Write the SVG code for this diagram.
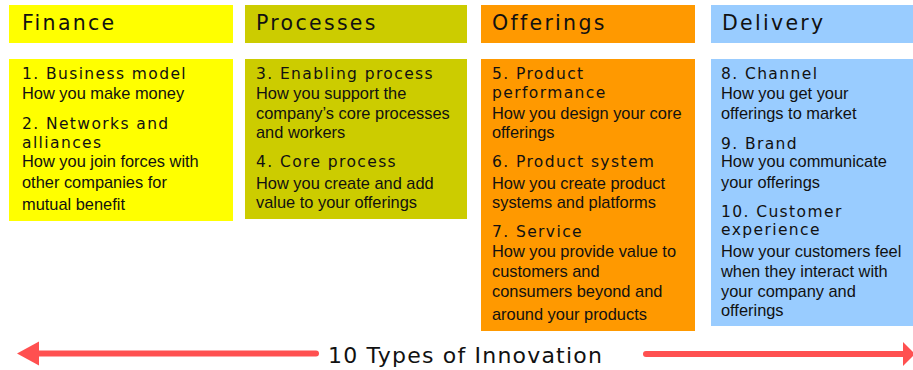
<svg xmlns="http://www.w3.org/2000/svg" width="913" height="370" viewBox="0 0 913 370">
<style>
.hd{font-family:"DejaVu Sans",Verdana,sans-serif;font-size:20.5px;letter-spacing:2.3px;fill:#111}
.tt{font-family:"DejaVu Sans",Verdana,sans-serif;font-size:15.5px;letter-spacing:1.4px;fill:#111}
.ds{font-family:"Liberation Sans",Arial,sans-serif;font-size:16.4px;fill:#111}
.ft{font-family:"DejaVu Sans",Verdana,sans-serif;font-size:22px;letter-spacing:1.2px;fill:#111}
.arr{stroke:#FF5050;stroke-width:6;stroke-linecap:round;fill:none}
</style>
<rect width="913" height="370" fill="#fff"/>
<g id="finance">
<rect x="9" y="5" width="224" height="38" fill="#FFFF00"/>
<rect x="9" y="59" width="224" height="162" fill="#FFFF00"/>
<text class="hd" x="22" y="30">Finance</text>
<text class="tt" x="22" y="79">1. Business model</text>
<text class="ds" x="22" y="99">How you make money</text>
<text class="tt" x="22" y="129">2. Networks and</text>
<text class="tt" x="22" y="148">alliances</text>
<text class="ds" x="22" y="167">How you join forces with</text>
<text class="ds" x="22" y="188">other companies for</text>
<text class="ds" x="22" y="210">mutual benefit</text>
</g>
<g id="processes">
<rect x="245" y="5" width="222" height="38" fill="#CCCC00"/>
<rect x="245" y="59" width="222" height="160" fill="#CCCC00"/>
<text class="hd" x="256" y="30">Processes</text>
<text class="tt" x="256" y="79">3. Enabling process</text>
<text class="ds" x="256" y="99">How you support the</text>
<text class="ds" x="256" y="119">company’s core processes</text>
<text class="ds" x="256" y="138">and workers</text>
<text class="tt" x="256" y="167">4. Core process</text>
<text class="ds" x="256" y="189">How you create and add</text>
<text class="ds" x="256" y="208">value to your offerings</text>
</g>
<g id="offerings">
<rect x="481" y="5" width="214" height="38" fill="#FF9900"/>
<rect x="481" y="59" width="214" height="272" fill="#FF9900"/>
<text class="hd" x="492" y="30">Offerings</text>
<text class="tt" x="492" y="79">5. Product</text>
<text class="tt" x="492" y="98">performance</text>
<text class="ds" x="492" y="119">How you design your core</text>
<text class="ds" x="492" y="138">offerings</text>
<text class="tt" x="492" y="167">6. Product system</text>
<text class="ds" x="492" y="189">How you create product</text>
<text class="ds" x="492" y="208">systems and platforms</text>
<text class="tt" x="492" y="237">7. Service</text>
<text class="ds" x="492" y="257">How you provide value to</text>
<text class="ds" x="492" y="277">customers and</text>
<text class="ds" x="492" y="297">consumers beyond and</text>
<text class="ds" x="492" y="320">around your products</text>
</g>
<g id="delivery">
<rect x="711" y="5" width="203" height="38" fill="#99CCFF"/>
<rect x="711" y="59" width="203" height="267" fill="#99CCFF"/>
<text class="hd" x="722" y="30">Delivery</text>
<text class="tt" x="721" y="79">8. Channel</text>
<text class="ds" x="721" y="99">How you get your</text>
<text class="ds" x="721" y="119">offerings to market</text>
<text class="tt" x="721" y="149">9. Brand</text>
<text class="ds" x="721" y="167">How you communicate</text>
<text class="ds" x="721" y="188">your offerings</text>
<text class="tt" x="721" y="217">10. Customer</text>
<text class="tt" x="721" y="235">experience</text>
<text class="ds" x="721" y="257">How your customers feel</text>
<text class="ds" x="721" y="277">when they interact with</text>
<text class="ds" x="721" y="297">your company and</text>
<text class="ds" x="721" y="316">offerings</text>
</g>
<g id="connectors">
<line class="arr" x1="36" y1="353.5" x2="316" y2="353.5"/>
<polygon points="17,353.5 39,341.5 39,365.5" fill="#FF5050"/>
<line class="arr" x1="646" y1="354" x2="906" y2="354"/>
<polygon points="915,354 903,342 903,366" fill="#FF5050"/>
</g>
<text id="axis-label" class="ft" x="328" y="363">10 Types of Innovation</text>
</svg>
